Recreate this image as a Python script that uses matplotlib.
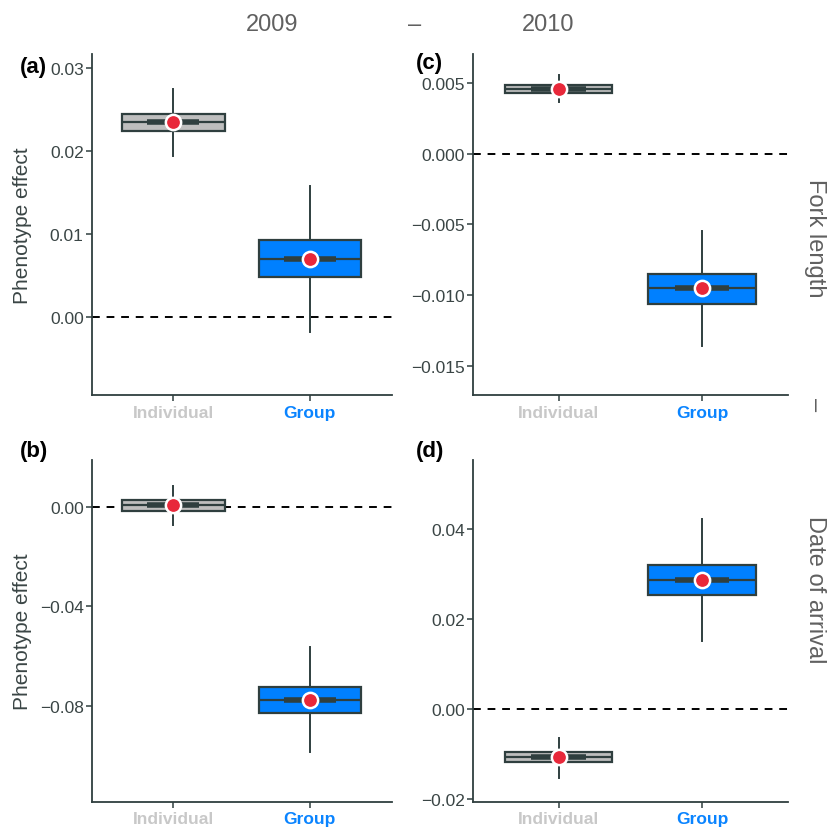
import matplotlib.pyplot as plt
from matplotlib.ticker import FuncFormatter

plt.rcParams['font.family'] = ['Liberation Sans', 'DejaVu Sans']

groups = ["Individual", "Group"]
years = ["2009", "2010"]
traits = ["Fork length", "Date of arrival"]

# whisker low, q1, median, q3, whisker high, point estimate
a_ind = [0.01945, 0.02246, 0.02351, 0.02448, 0.0275, 0.0235]
a_grp = [-0.00181, 0.0048, 0.00697, 0.00923, 0.01582, 0.0070]
b_ind = [-0.0073, -0.0016, 0.0006, 0.0027, 0.0082, 0.0006]
b_grp = [-0.0986, -0.0829, -0.0774, -0.0722, -0.0564, -0.0774]
c_ind = [0.00366, 0.00431, 0.0046, 0.00483, 0.00554, 0.0046]
c_grp = [-0.01363, -0.01061, -0.00952, -0.00853, -0.00547, -0.00952]
d_ind = [-0.01523, -0.01189, -0.01078, -0.00958, -0.00646, -0.01078]
d_grp = [0.01514, 0.02523, 0.02857, 0.03191, 0.04216, 0.02857]

a_ticks = [0.00, 0.01, 0.02, 0.03]
b_ticks = [-0.08, -0.04, 0.00]
c_ticks = [-0.015, -0.010, -0.005, 0.000, 0.005]
d_ticks = [-0.02, 0.00, 0.02, 0.04]

dark = "#2f3f3f"
fills = ["#bebebe", "#0080ff"]
label_cols = ["#c8c8c8", "#0a84ff"]


def make_fmt(nd):
    return FuncFormatter(lambda v, p: f"{v:.{nd}f}".replace("-", "\u2212"))


fig = plt.figure(figsize=(8.3, 8.28), dpi=100)

panels = [
    ("(a)", a_ind, a_grp, a_ticks, (-0.00946, 0.0317), 2, [0.1108, 0.5217, 0.3614, 0.4118], (20, 68)),
    ("(c)", c_ind, c_grp, c_ticks, (-0.01707, 0.00705), 3, [0.5703, 0.5217, 0.3792, 0.4118], (416, 63)),
    ("(b)", b_ind, b_grp, b_ticks, (-0.1184, 0.01886), 2, [0.1108, 0.0306, 0.3614, 0.4130], (20, 452)),
    ("(d)", d_ind, d_grp, d_ticks, (-0.0206, 0.0554), 2, [0.5703, 0.0306, 0.3792, 0.4130], (416, 452)),
]

for tag, ind, grp, ticks, ylim, nd, rect, tagxy in panels:
    ax = fig.add_axes(rect)
    pos = [1, 2]
    stats = []
    for name, s in zip(groups, [ind, grp]):
        stats.append(dict(label=name, whislo=s[0], q1=s[1], med=s[2],
                          q3=s[3], whishi=s[4], fliers=[]))
    ax.axhline(0, color="black", lw=1.4, ls=(0, (4, 3.5)), zorder=1)
    bp = ax.bxp(stats, positions=pos, widths=0.75, patch_artist=True,
                showcaps=False, showfliers=False,
                boxprops=dict(edgecolor=dark, linewidth=1.6),
                whiskerprops=dict(color=dark, linewidth=1.4),
                medianprops=dict(color=dark, linewidth=1.6))
    for patch, col in zip(bp["boxes"], fills):
        patch.set_facecolor(col)
        patch.set_zorder(2)
    for w in bp["whiskers"]:
        w.set_zorder(1.5)
    for p, s in zip(pos, [ind, grp]):
        ax.hlines(s[2], p - 0.19, p + 0.19, color=dark, lw=4, zorder=3)
        ax.plot(p, s[5], "o", ms=11, mfc="#e8283a", mec="white", mew=1.8, zorder=4)
    ax.set_xlim(0.405, 2.6)
    ax.set_ylim(*ylim)
    ax.set_yticks(ticks)
    ax.yaxis.set_major_formatter(make_fmt(nd))
    ax.set_xticks(pos)
    ax.set_xticklabels(groups, fontweight="bold", fontsize=12.5)
    for lab, col in zip(ax.get_xticklabels(), label_cols):
        lab.set_color(col)
    ax.tick_params(axis="y", labelsize=12.5, labelcolor="#3a4545", color=dark, width=1.1, length=4, pad=2)
    ax.tick_params(axis="x", color=dark, width=1.1, length=4, pad=3)
    for side in ["top", "right"]:
        ax.spines[side].set_visible(False)
    for side in ["left", "bottom"]:
        ax.spines[side].set_color(dark)
        ax.spines[side].set_linewidth(1.3)
    if rect[0] < 0.3:
        yc = rect[1] + rect[3] / 2
        fig.text(23 / 830, yc, "Phenotype effect", fontsize=15, color="#3a4545",
                 rotation=90, ha="center", va="center")
    fig.text(tagxy[0] / 830, 1 - tagxy[1] / 828, tag, fontsize=16, fontweight="bold",
             ha="left", va="center")

fig.text(272 / 830, 1 - 25 / 828, years[0], fontsize=17, color="#606060", ha="center", va="center")
fig.text(548 / 830, 1 - 25 / 828, years[1], fontsize=17, color="#606060", ha="center", va="center")
fig.text(415 / 830, 1 - 25 / 828, "\u2013", fontsize=17, color="#606060", ha="center", va="center")
fig.text(815 / 830, 1 - 238 / 828, traits[0], fontsize=17, color="#606060", ha="center", va="center", rotation=-90)
fig.text(815 / 830, 1 - 590 / 828, traits[1], fontsize=17, color="#606060", ha="center", va="center", rotation=-90)
fig.text(815 / 830, 1 - 405 / 828, "\u2013", fontsize=17, color="#606060", ha="center", va="center", rotation=-90)

fig.savefig("out.png", dpi=100)
